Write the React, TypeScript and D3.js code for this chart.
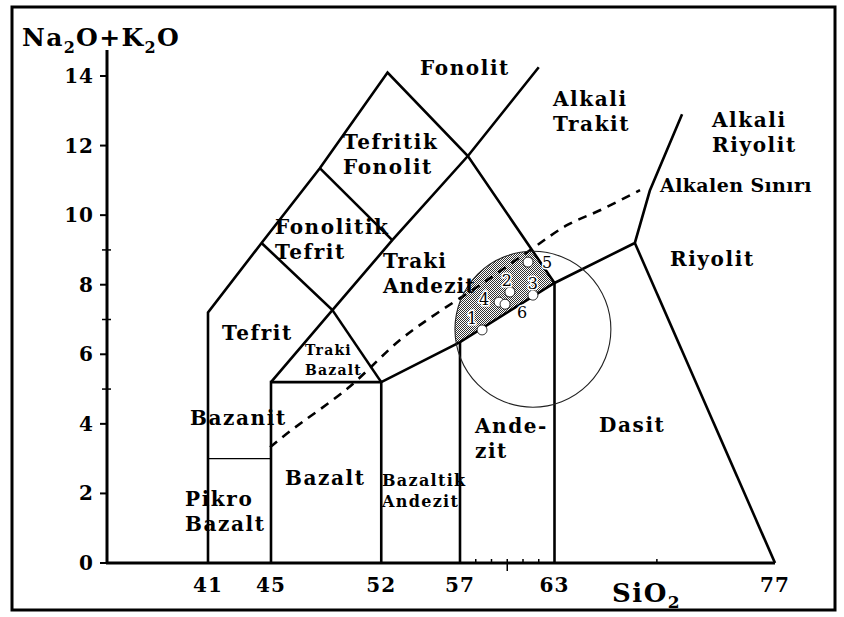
import React, { useEffect, useRef } from "react";
import { select, scaleLinear, line, curveCatmullRom } from "d3";

// field boundaries, [SiO2, Na2O+K2O]
const outerBoundary = [[41, 0], [41, 7.2], [44.4, 9.2], [48.1, 11.35], [52.4, 14.1], [57.5, 11.7], [63, 8.05]];
const tephriphonoliteBase = [[48.1, 11.35], [52.7, 9.28]];
const phonotephriteBase = [[44.4, 9.2], [48.9, 7.27], [45, 5.2]];
const trachybasaltRight = [[48.9, 7.27], [52, 5.2]];
const trachyteLeft = [[48.9, 7.27], [52.7, 9.28], [57.5, 11.7], [62, 14.25]];
const basaltBox = [[45, 0], [45, 5.2], [52, 5.2], [52, 0]];
const subalkalineTop = [[52, 5.2], [57, 6.35], [63, 8.05], [68.1, 9.2], [69.05, 10.7], [71.1, 12.9]];
const andesiteLeft = [[57, 0], [57, 6.35]];
const daciteLeft = [[63, 0], [63, 8.05]];
const rhyoliteLeft = [[68.1, 9.2], [77, 0]];
const picroTop = [[41, 3], [45, 3]];

const alkalineDivide = [
  [44.94, 3.33], [46.21, 3.79], [49.89, 5.03], [53.19, 6.41], [55.54, 7.18],
  [58.27, 7.99], [61.44, 8.99], [63.79, 9.71], [65.89, 10.14], [68.43, 10.72],
];

const trachyandesiteField = [[48.9, 7.27], [52, 5.2], [57, 6.35], [63, 8.05], [57.5, 11.7], [52.7, 9.28]];
const circleCenter = [61.63, 6.72];
const circleRadius = 4.95; // in SiO2 units

const sampleIds = ["1", "2", "3", "4", "5", "6"];
const sampleSiO2 = [58.4, 60.17, 61.63, 59.48, 61.32, 59.86];
const sampleAlkali = [6.7, 7.79, 7.7, 7.5, 8.65, 7.44];

const yTicks = [0, 2, 4, 6, 8, 10, 12, 14];
const yMinor = [5, 7, 9];
const xTicks = [41, 45, 52, 57, 63, 77];
const xMinor = [58, 59, 61, 62, 69.5];

const fieldNames = [
  { lines: ["Fonolit"], at: [54.46, 14.02], kind: "big" },
  { lines: ["Alkali", "Trakit"], at: [62.9, 13.13], kind: "big" },
  { lines: ["Alkali", "Riyolit"], at: [73.0, 12.53], kind: "big" },
  { lines: ["Alkalen Sınırı"], at: [69.7, 10.66], kind: "tight" },
  { lines: ["Tefritik", "Fonolit"], at: [49.57, 11.9], kind: "big" },
  { lines: ["Fonolitik", "Tefrit"], at: [45.25, 9.45], kind: "big" },
  { lines: ["Traki", "Andezit"], at: [52.11, 8.48], kind: "mid" },
  { lines: ["Tefrit"], at: [41.89, 6.4], kind: "big" },
  { lines: ["Traki", "Bazalt"], at: [47.16, 5.98], kind: "tiny" },
  { lines: ["Bazanit"], at: [39.86, 3.97], kind: "big" },
  { lines: ["Pikro", "Bazalt"], at: [39.54, 1.64], kind: "big" },
  { lines: ["Bazalt"], at: [45.89, 2.24], kind: "big" },
  { lines: ["Bazaltik", "Andezit"], at: [52.05, 2.21], kind: "small" },
  { lines: ["Ande-", "zit"], at: [57.95, 3.74], kind: "big" },
  { lines: ["Dasit"], at: [65.83, 3.76], kind: "big" },
  { lines: ["Riyolit"], at: [70.33, 8.53], kind: "big" },
];

const labelOffsets = [[-10, -12], [-3, -12], [0, -12], [-15, -3], [19, 0], [17, 8]];
const fontSpec = {
  big: { size: 20, spacing: 1.6, gap: 25 },
  mid: { size: 20, spacing: 1.1, gap: 25 },
  tight: { size: 19, spacing: 0.4, gap: 25 },
  small: { size: 16, spacing: 1.3, gap: 21 },
  tiny: { size: 14, spacing: 1.2, gap: 20 },
};

const SERIF = "'DejaVu Serif', serif";

const App = () => {
  const svgRef = useRef(null);

  useEffect(() => {
    const svg = select(svgRef.current);
    svg.selectAll("*").remove();

    const x = scaleLinear().domain([41, 77]).range([208, 775]);
    const y = scaleLinear().domain([0, 14]).range([563, 76]);
    const path = line().x((d) => x(d[0])).y((d) => y(d[1]));

    const defs = svg.append("defs");
    const pat = defs.append("pattern").attr("id", "dither").attr("width", 2).attr("height", 2).attr("patternUnits", "userSpaceOnUse");
    pat.append("rect").attr("width", 2).attr("height", 2).attr("fill", "#fff");
    pat.append("rect").attr("width", 1).attr("height", 1).attr("fill", "#333");
    pat.append("rect").attr("x", 1).attr("y", 1).attr("width", 1).attr("height", 1).attr("fill", "#333");
    defs.append("clipPath").attr("id", "taclip").append("path").attr("d", path(trachyandesiteField) + "Z");

    svg.append("rect").attr("width", 844).attr("height", 617).attr("fill", "#fff");
    svg.append("rect").attr("x", 12).attr("y", 7).attr("width", 823).attr("height", 603)
      .attr("fill", "none").attr("stroke", "#000").attr("stroke-width", 3);

    const rPx = x(circleCenter[0] + circleRadius) - x(circleCenter[0]);
    svg.append("circle").attr("cx", x(circleCenter[0])).attr("cy", y(circleCenter[1])).attr("r", rPx)
      .attr("fill", "url(#dither)").attr("clip-path", "url(#taclip)");

    // axes
    svg.append("line").attr("x1", 107).attr("x2", 107).attr("y1", y(0)).attr("y2", 50)
      .attr("stroke", "#000").attr("stroke-width", 3);
    svg.append("line").attr("x1", 106).attr("x2", x(77)).attr("y1", y(0)).attr("y2", y(0))
      .attr("stroke", "#000").attr("stroke-width", 3);
    svg.selectAll(".ytick").data(yTicks).join("line").attr("class", "ytick")
      .attr("x1", 100).attr("x2", 107).attr("y1", (d) => y(d)).attr("y2", (d) => y(d))
      .attr("stroke", "#000").attr("stroke-width", 2);
    svg.selectAll(".yminor").data(yMinor).join("line").attr("class", "yminor")
      .attr("x1", 102).attr("x2", 111).attr("y1", (d) => y(d)).attr("y2", (d) => y(d))
      .attr("stroke", "#000").attr("stroke-width", 1.5);
    svg.selectAll(".xminor").data(xMinor).join("line").attr("class", "xminor")
      .attr("x1", (d) => x(d)).attr("x2", (d) => x(d)).attr("y1", y(0) - 4).attr("y2", y(0) + 1)
      .attr("stroke", "#000").attr("stroke-width", 1.5);
    svg.append("line").attr("x1", x(60)).attr("x2", x(60)).attr("y1", y(0) - 4).attr("y2", y(0) + 8)
      .attr("stroke", "#000").attr("stroke-width", 1.5);

    svg.selectAll(".ylab").data(yTicks).join("text").attr("class", "ylab")
      .attr("x", 94).attr("y", (d) => y(d) + 7).attr("text-anchor", "end")
      .attr("font-family", SERIF).attr("font-weight", "bold").attr("font-size", 20).attr("letter-spacing", 1)
      .text((d) => d);
    svg.selectAll(".xlab").data(xTicks).join("text").attr("class", "xlab")
      .attr("x", (d) => x(d)).attr("y", 592).attr("text-anchor", "middle")
      .attr("font-family", SERIF).attr("font-weight", "bold").attr("font-size", 20).attr("letter-spacing", 1)
      .text((d) => d);

    const yTitle = svg.append("text").attr("x", 22).attr("y", 46)
      .attr("font-family", SERIF).attr("font-weight", "bold").attr("font-size", 25).attr("letter-spacing", 1.3);
    yTitle.append("tspan").text("Na");
    yTitle.append("tspan").attr("dy", 7).attr("font-size", 16).text("2");
    yTitle.append("tspan").attr("dy", -7).text("O+K");
    yTitle.append("tspan").attr("dy", 7).attr("font-size", 16).text("2");
    yTitle.append("tspan").attr("dy", -7).text("O");

    const xTitle = svg.append("text").attr("x", 612).attr("y", 602)
      .attr("font-family", SERIF).attr("font-weight", "bold").attr("font-size", 26).attr("letter-spacing", 1.5);
    xTitle.append("tspan").text("SiO");
    xTitle.append("tspan").attr("dy", 6).attr("font-size", 17).text("2");

    // boundaries
    const thick = [outerBoundary, tephriphonoliteBase, phonotephriteBase, trachybasaltRight, trachyteLeft,
      basaltBox, subalkalineTop, andesiteLeft, daciteLeft, rhyoliteLeft];
    svg.selectAll(".bound").data(thick).join("path").attr("class", "bound")
      .attr("d", (d) => path(d)).attr("fill", "none").attr("stroke", "#000")
      .attr("stroke-width", 2.6).attr("stroke-linejoin", "miter");
    svg.append("path").attr("d", path(picroTop)).attr("fill", "none").attr("stroke", "#000").attr("stroke-width", 1.2);

    const smooth = line().x((d) => x(d[0])).y((d) => y(d[1])).curve(curveCatmullRom.alpha(0.5));
    svg.append("path").attr("d", smooth(alkalineDivide))
      .attr("fill", "none").attr("stroke", "#000").attr("stroke-width", 2.6).attr("stroke-dasharray", "9 7");

    svg.append("circle").attr("cx", x(circleCenter[0])).attr("cy", y(circleCenter[1])).attr("r", rPx)
      .attr("fill", "none").attr("stroke", "#222").attr("stroke-width", 1.1);

    // samples
    const samples = sampleIds.map((id, i) => ({ id, sx: sampleSiO2[i], sy: sampleAlkali[i], off: labelOffsets[i] }));
    svg.selectAll(".pt").data(samples).join("circle").attr("class", "pt")
      .attr("cx", (d) => x(d.sx)).attr("cy", (d) => y(d.sy)).attr("r", 5)
      .attr("fill", "#fff").attr("stroke", "#000").attr("stroke-width", 0.8);
    svg.selectAll(".ptlab").data(samples).join("text").attr("class", "ptlab")
      .attr("x", (d) => x(d.sx) + d.off[0]).attr("y", (d) => y(d.sy) + d.off[1] + 6)
      .attr("text-anchor", "middle").attr("font-family", SERIF).attr("font-size", 16)
      .attr("stroke", "#fff").attr("stroke-width", 3).attr("paint-order", "stroke").attr("fill", "#000")
      .text((d) => d.id);

    // field names
    fieldNames.forEach((f) => {
      const spec = fontSpec[f.kind];
      const t = svg.append("text").attr("font-family", SERIF).attr("font-weight", "bold")
        .attr("font-size", spec.size).attr("letter-spacing", spec.spacing);
      f.lines.forEach((ln, i) => {
        t.append("tspan").attr("x", x(f.at[0])).attr("y", y(f.at[1]) + i * spec.gap).text(ln);
      });
    });
  }, []);

  return (
    <svg ref={svgRef} width={844} height={617}
      style={{ position: "absolute", left: 0, top: 0, display: "block" }} />
  );
};

export default App;
